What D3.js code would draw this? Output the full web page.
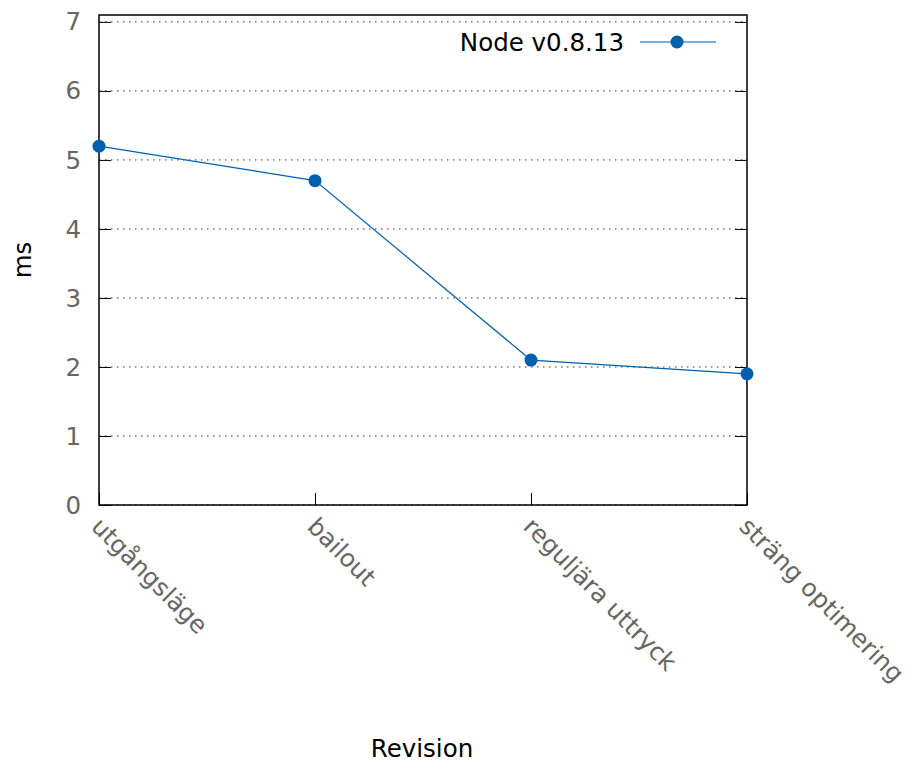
<!DOCTYPE html>
<html>
<head>
<meta charset="utf-8">
<script src="https://cdn.jsdelivr.net/npm/d3@7"></script>
<style>
  body { margin: 0; background: #fff; }
  text { font-family: "DejaVu Sans", sans-serif; }
</style>
</head>
<body>
<div id="chart"></div>
<script>
// data
const revisions = ["utgångsläge", "bailout", "reguljära uttryck", "sträng optimering"];
const nodeTimes = [5.2, 4.7, 2.1, 1.9];
const yTicks = [0, 1, 2, 3, 4, 5, 6, 7];
const seriesName = "Node v0.8.13";

const width = 910;
const height = 764;
const marginTop = 15;
const marginRight = 163;
const marginBottom = 259;
const marginLeft = 99;
const fontSize = 24.5;

const x = d3.scalePoint().domain(revisions).range([marginLeft, width - marginRight]);
const y = d3.scaleLinear().domain([0, 7.1]).range([height - marginBottom, marginTop]);

const svg = d3.select("#chart").append("svg")
    .attr("width", width)
    .attr("height", height);

// grade pontilhada
svg.append("g")
    .selectAll("line")
    .data(yTicks)
    .join("line")
    .attr("x1", marginLeft)
    .attr("x2", width - marginRight)
    .attr("y1", d => y(d))
    .attr("y2", d => y(d))
    .attr("stroke", "#000")
    .attr("stroke-opacity", 0.8)
    .attr("stroke-width", 1)
    .attr("stroke-dasharray", "1.5,4.5");

// eixo Y esquerdo (ticks para dentro)
const yAxis = svg.append("g")
    .attr("transform", `translate(${marginLeft},0)`)
    .call(d3.axisRight(y).tickValues(yTicks).tickSize(12).tickFormat(""));
yAxis.select(".domain").remove();

// eixo Y direito (espelho)
const yAxisR = svg.append("g")
    .attr("transform", `translate(${width - marginRight},0)`)
    .call(d3.axisLeft(y).tickValues(yTicks).tickSize(12).tickFormat(""));
yAxisR.select(".domain").remove();

// rótulos Y
svg.append("g")
    .selectAll("text")
    .data(yTicks)
    .join("text")
    .attr("x", marginLeft - 18)
    .attr("y", d => y(d))
    .attr("dy", "0.35em")
    .attr("text-anchor", "end")
    .attr("fill", "#666")
    .attr("font-size", fontSize)
    .text(d => d);

// eixo X (ticks para dentro)
const xAxis = svg.append("g")
    .attr("transform", `translate(0,${height - marginBottom})`)
    .call(d3.axisTop(x).tickSize(12).tickFormat(""));
xAxis.select(".domain").remove();

// rótulos X rotacionados
svg.append("g")
    .selectAll("text")
    .data(revisions)
    .join("text")
    .attr("transform", d => `translate(${x(d) + 4},${height - marginBottom + 10}) rotate(45)`)
    .attr("dy", "0.75em")
    .attr("text-anchor", "start")
    .attr("fill", "#666")
    .attr("font-size", fontSize)
    .text(d => d);

// moldura
svg.append("rect")
    .attr("x", marginLeft)
    .attr("y", marginTop)
    .attr("width", width - marginLeft - marginRight)
    .attr("height", height - marginTop - marginBottom)
    .attr("fill", "none")
    .attr("stroke", "#000")
    .attr("stroke-width", 1.5);

// linha
const linha = d3.line()
    .x((d, i) => x(revisions[i]))
    .y(d => y(d));

svg.append("path")
    .datum(nodeTimes)
    .attr("fill", "none")
    .attr("stroke", "#0060ad")
    .attr("stroke-width", 1.2)
    .attr("d", linha);

svg.append("g")
    .selectAll("circle")
    .data(nodeTimes)
    .join("circle")
    .attr("cx", (d, i) => x(revisions[i]))
    .attr("cy", d => y(d))
    .attr("r", 6.5)
    .attr("fill", "#0060ad");

// legenda
const legend = svg.append("g").attr("transform", "translate(0,42)");
legend.append("text")
    .attr("x", 624)
    .attr("dy", "0.35em")
    .attr("text-anchor", "end")
    .attr("fill", "#000")
    .attr("font-size", fontSize)
    .text(seriesName);
legend.append("line")
    .attr("x1", 640).attr("x2", 716)
    .attr("stroke", "#0060ad")
    .attr("stroke-width", 1.2);
legend.append("circle")
    .attr("cx", 677)
    .attr("r", 6.5)
    .attr("fill", "#0060ad");

// títulos dos eixos
svg.append("text")
    .attr("transform", `translate(31,260) rotate(-90)`)
    .attr("text-anchor", "middle")
    .attr("fill", "#000")
    .attr("font-size", fontSize)
    .text("ms");

svg.append("text")
    .attr("x", 422)
    .attr("y", 757)
    .attr("text-anchor", "middle")
    .attr("fill", "#000")
    .attr("font-size", fontSize)
    .text("Revision");
</script>
</body>
</html>
